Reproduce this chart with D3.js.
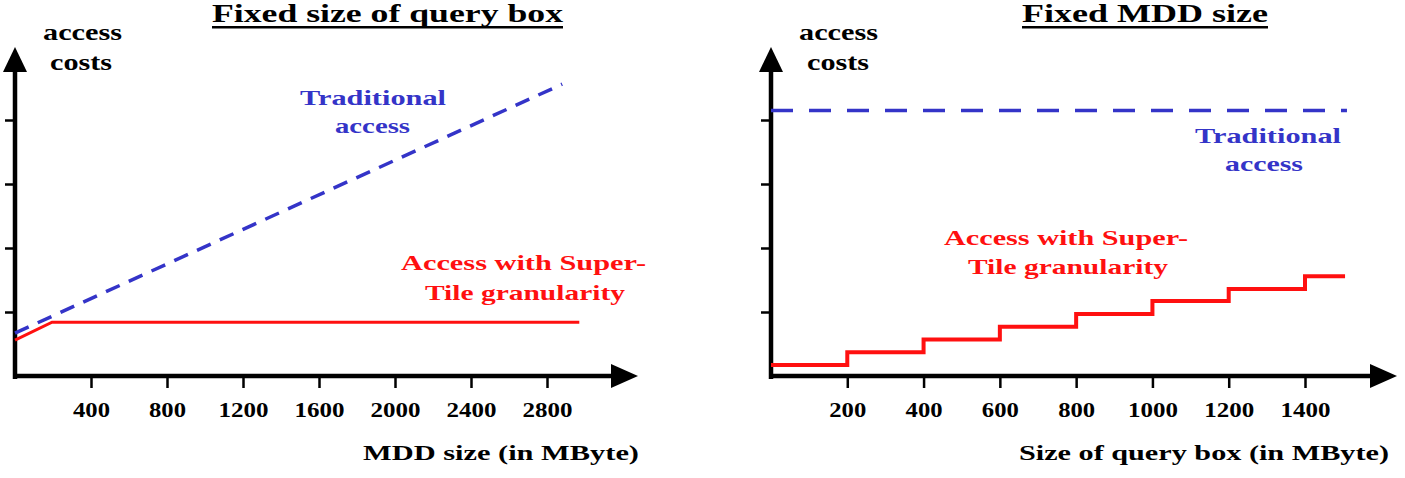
<!DOCTYPE html>
<html><head><meta charset="utf-8">
<script src="https://cdn.jsdelivr.net/npm/d3@7"></script>
<style>
html,body{margin:0;padding:0;background:#fff;}
svg{display:block;}
text{font-family:"Liberation Serif","Times New Roman",Times,serif;font-weight:bold;}
</style></head>
<body>
<svg id="c" width="1405" height="478"></svg>
<script>
// ---------- data ----------
const leftXTicks = [400, 800, 1200, 1600, 2000, 2400, 2800];
const rightXTicks = [200, 400, 600, 800, 1000, 1200, 1400];
const yTicks = [1, 2, 3, 4];
const leftTraditional = [[0, 0.67], [2880, 4.56]];
const leftSuperTile = [[0, 0.56], [195, 0.84], [2970, 0.84]];
const rightTraditional = [[0, 4.15], [1510, 4.15]];
const stepStarts = [0, 200, 400, 600, 800, 1000, 1200, 1400];
const stepLevels = [0.17, 0.37, 0.57, 0.77, 0.97, 1.17, 1.36, 1.56];
const stepEnd = 1505;

const BLUE = "#3434c8", RED = "#ff1010", BLACK = "#000";
const svg = d3.select("#c");

function txt(g, s, x, y, w, size, color) {
  g.append("text").attr("x", x).attr("y", y).attr("font-size", size)
    .attr("fill", color).attr("textLength", w).attr("lengthAdjust", "spacingAndGlyphs")
    .text(s);
}

function panel(cfg) {
  const g = svg.append("g");
  const x = d3.scaleLinear().domain(cfg.xDomain).range(cfg.xRange);
  const y = d3.scaleLinear().domain([0, 4]).range([376, 120]);
  const x0 = cfg.xRange[0];

  // y ticks
  const ya = d3.axisLeft(y).tickValues(yTicks).tickSize(10).tickSizeOuter(0).tickFormat("");
  const yg = g.append("g").attr("transform", `translate(${x0},0)`).call(ya);
  yg.select(".domain").remove();
  yg.selectAll("line").attr("stroke", BLACK).attr("stroke-width", 2.5);

  // x ticks + labels
  const xa = d3.axisBottom(x).tickValues(cfg.xTicks).tickSize(12).tickSizeOuter(0).tickFormat(d3.format("d"));
  const xg = g.append("g").attr("transform", "translate(0,376)").call(xa);
  xg.attr("font-family", null);
  xg.select(".domain").remove();
  xg.selectAll("line").attr("stroke", BLACK).attr("stroke-width", 2.5);
  xg.selectAll("text").attr("y", 41).attr("dy", 0).attr("fill", BLACK)
    .attr("font-size", 20)
    .attr("textLength", d => String(d).length === 3 ? 37 : 50)
    .attr("lengthAdjust", "spacingAndGlyphs");

  // axes lines + arrows
  g.append("line").attr("x1", x0).attr("x2", x0).attr("y1", 379).attr("y2", 70)
    .attr("stroke", BLACK).attr("stroke-width", 4.5);
  g.append("path").attr("d", `M${x0},47 L${x0 - 12},72 L${x0 + 12},72 Z`).attr("fill", BLACK);
  g.append("line").attr("x1", x0 - 2).attr("x2", cfg.arrowX - 24).attr("y1", 376).attr("y2", 376)
    .attr("stroke", BLACK).attr("stroke-width", 4.5);
  g.append("path").attr("d", `M${cfg.arrowX},376 L${cfg.arrowX - 27},364 L${cfg.arrowX - 27},388 Z`).attr("fill", BLACK);

  const line = d3.line().x(d => x(d[0])).y(d => y(d[1]));
  g.append("path").attr("d", line(cfg.trad)).attr("fill", "none")
    .attr("stroke", BLUE).attr("stroke-width", 3.5).attr("stroke-dasharray", cfg.dash);
  g.append("path").attr("d", (cfg.curve ? line.curve(cfg.curve) : line)(cfg.super)).attr("fill", "none")
    .attr("stroke", RED).attr("stroke-width", cfg.redW).attr("stroke-linejoin", "miter");

  // texts
  cfg.texts.forEach(t => txt(g, t[0], t[1], t[2], t[3], t[4], t[5]));
  g.append("rect").attr("x", cfg.title[1]).attr("y", 26).attr("width", cfg.title[3]).attr("height", 2.5).attr("fill", BLACK);
  txt(g, cfg.title[0], cfg.title[1], cfg.title[2], cfg.title[3], 26, BLACK);
}

panel({
  xDomain: [0, 2800], xRange: [15, 547], xTicks: leftXTicks, arrowX: 638,
  trad: leftTraditional, super: leftSuperTile, dash: "15,10", redW: 3,
  title: ["Fixed size of query box", 212, 22, 351],
  texts: [
    ["access", 43, 40, 79, 24, BLACK], ["costs", 50, 70, 62, 24, BLACK],
    ["Traditional", 300, 105, 146, 22, BLUE], ["access", 335, 133, 75, 22, BLUE],
    ["Access with Super-", 401, 270, 245, 22, RED], ["Tile granularity", 425, 300, 200, 22, RED],
    ["MDD size (in MByte)", 363, 460, 276, 22, BLACK]
  ]
});

const stepData = stepStarts.map((s, i) => [s, stepLevels[i]]).concat([[stepEnd, stepLevels[stepLevels.length - 1]]]);
panel({
  xDomain: [0, 1400], xRange: [771, 1305], xTicks: rightXTicks, arrowX: 1397,
  trad: rightTraditional, super: stepData, curve: d3.curveStepAfter, dash: "22,16", redW: 4,
  title: ["Fixed MDD size", 1022, 22, 246],
  texts: [
    ["access", 799, 40, 79, 24, BLACK], ["costs", 807, 70, 62, 24, BLACK],
    ["Traditional", 1195, 143, 146, 22, BLUE], ["access", 1225, 171, 78, 22, BLUE],
    ["Access with Super-", 944, 245, 244, 22, RED], ["Tile granularity", 968, 274, 200, 22, RED],
    ["Size of query box (in MByte)", 1019, 460, 370, 22, BLACK]
  ]
});
</script>
</body></html>
